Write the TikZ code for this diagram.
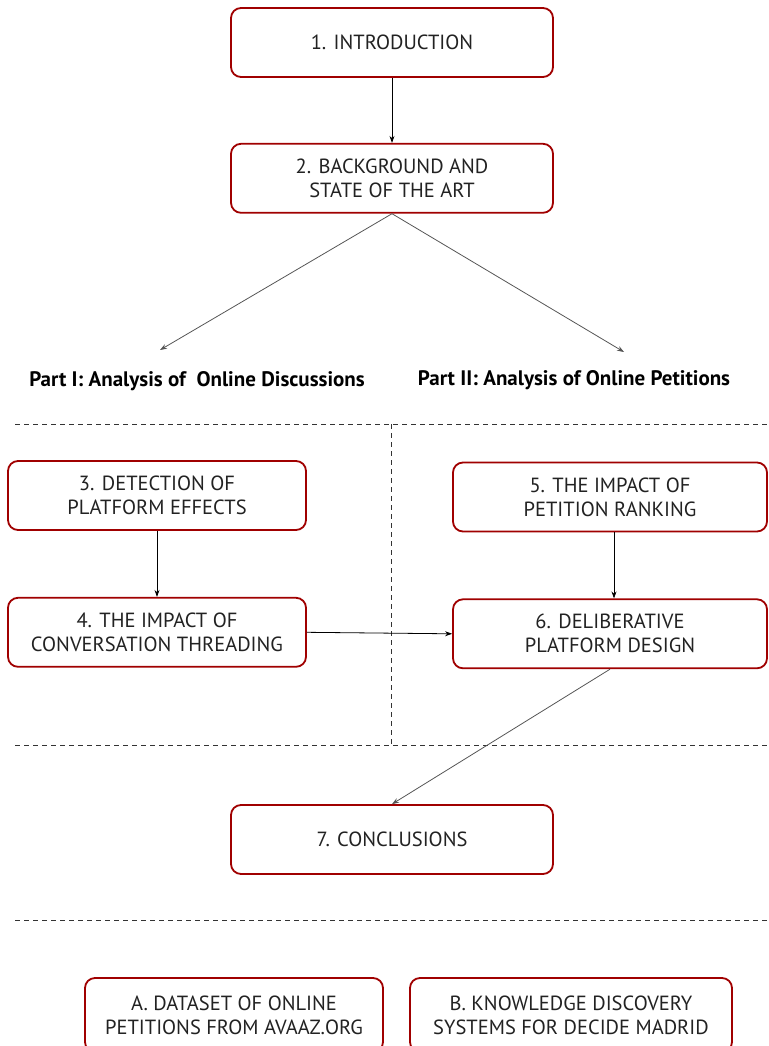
\documentclass[tikz,border=0pt]{standalone}
\usepackage{fontspec}
\setmainfont{PT Sans}
\usepackage{xcolor}
\usetikzlibrary{arrows.meta,positioning}
\definecolor{palRed}{HTML}{A00000}
\definecolor{palInk}{HTML}{222222}
\definecolor{palGrey}{HTML}{555555}

\begin{document}
\begin{tikzpicture}[
  x=1pt, y=-1pt,
  font=\fontsize{20.5}{24}\selectfont,
  chapter/.style={draw=palRed, rounded corners=10pt, line width=1.8pt, fill=white, text=palInk,
    align=center, minimum height=69pt, inner sep=2pt},
  wide/.style={chapter, minimum width=322pt},
  narrow/.style={chapter, minimum width=298pt},
  partlabel/.style={font=\fontsize{21}{24}\selectfont\bfseries, text=black},
  arrow/.style={-{Stealth[length=7pt, width=5pt]}, line width=0.8pt, black},
  greyarrow/.style={-{Stealth[length=7pt, width=5pt]}, line width=0.8pt, palGrey},
  separator/.style={dashed, dash pattern=on 5pt off 4pt, line width=0.7pt, black!80},
]
\useasboundingbox (0,0) rectangle (768,1046);
\clip (0,0) rectangle (768,1046);

% chapters
\node[wide] (intro) at (392,42.5) {1. INTRODUCTION};
\node[wide, below=65pt of intro] (background) {2. BACKGROUND AND\\STATE OF THE ART};

\node[partlabel] (partI) at (197,381) {Part I: Analysis of \ Online Discussions};
\node[partlabel] (partII) at (574,380) {Part II: Analysis of Online Petitions};

\node[narrow] (detection) at (157,495.5) {3. DETECTION OF\\PLATFORM EFFECTS};
\node[narrow, below=66pt of detection] (threading) {4. THE IMPACT OF\\CONVERSATION THREADING};
\node[chapter, minimum width=314pt] (ranking) at (610,497) {5. THE IMPACT OF\\PETITION RANKING};
\node[chapter, minimum width=314pt, below=66pt of ranking] (deliberative) {6. DELIBERATIVE\\PLATFORM DESIGN};

\node[wide] (conclusions) at (392,839.5) {7. CONCLUSIONS};

\node[narrow, minimum height=74pt] (datasetA) at (234,1015) {A. DATASET OF ONLINE\\PETITIONS FROM AVAAZ.ORG};
\node[wide, minimum height=74pt] (systemsB) at (571,1015) {B. KNOWLEDGE DISCOVERY\\SYSTEMS FOR DECIDE MADRID};

% separators
\coordinate (sepTop) at (391,424);
\coordinate (sepMid) at (391,745);
\draw[separator] (15,424) -- (768,424);
\draw[separator] (15,745) -- (768,745);
\draw[separator] (15,920) -- (768,920);
\draw[separator] (sepTop) -- (sepMid);

% connectors
\coordinate (toPartI) at (160,350);
\coordinate (toPartII) at (624,352);
\draw[arrow] (intro) -- (background);
\draw[greyarrow] (background.south) -- (toPartI);
\draw[greyarrow] (background.south) -- (toPartII);
\draw[arrow] (detection) -- (threading);
\draw[arrow] (ranking.south -| 614,0) -- (deliberative.north -| 614,0);
\draw[arrow] (threading.east) -- (deliberative.west);
\draw[greyarrow] (deliberative.south) -- (conclusions.north);
\end{tikzpicture}
\end{document}
